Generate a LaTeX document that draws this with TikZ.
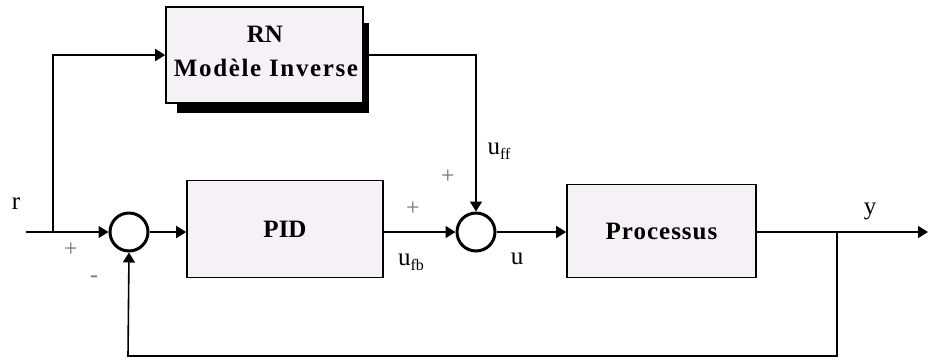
\documentclass[tikz,border=0pt]{standalone}
\usepackage{fontspec}
\setmainfont{Liberation Serif}
\newfontfamily\wideA[LetterSpace=6.5]{Liberation Serif}
\newfontfamily\wideB[LetterSpace=4]{Liberation Serif}
\usetikzlibrary{arrows.meta}
\definecolor{boxfill}{RGB}{246,241,246}
\begin{document}
\begin{tikzpicture}[x=1pt,y=-1pt,
  blockbox/.style={draw, line width=1.6pt, fill=boxfill, inner sep=0pt, align=center,
    font=\fontsize{25}{28}\selectfont\bfseries},
  sumnode/.style={circle, draw, line width=3pt, fill=white, minimum size=38pt, inner sep=0pt},
  wire/.style={line width=1.6pt},
  arr/.style={wire, -{Triangle[length=10pt,width=12pt]}},
  lbl/.style={font=\fontsize{25}{28}\selectfont, inner sep=0pt},
  sgn/.style={font=\fontsize{24}{28}\selectfont, text=black!55, inner sep=0pt}]
\useasboundingbox (0,0) rectangle (928,360);
% shadow of RN box
\fill[black] (177,23) rectangle (369,113);
\node[blockbox, minimum width=197pt, minimum height=96pt] (rn) at (264.5,55) {};
\node[font=\fontsize{25}{28}\selectfont\bfseries, inner sep=0pt] (rnt1) at (265,34) {RN};
\node[font=\wideA\fontsize{25}{28}\selectfont\bfseries, inner sep=0pt] (rnt2) at (266,68) {Modèle Inverse};
\node[blockbox, minimum width=196pt, minimum height=97pt] (pid) at (285,229) {PID};
\node[blockbox, minimum width=189pt, minimum height=93pt, font=\wideB\fontsize{25}{28}\selectfont\bfseries] (proc) at (661.5,231) {Processus};
\node[sumnode] (s1) at (129,232) {};
\node[sumnode] (s2) at (476,232) {};
\coordinate (rin) at (26,232);
\coordinate (split) at (53,232);
\coordinate (ybr) at (837,232);
\coordinate (yout) at (928,232);
\coordinate (fbr) at (837,356);
\coordinate (fbl) at (128,356);
% connectors
\draw[wire] (rin) -- (split);
\draw[arr] (split) -- (s1.west);
\draw[arr] (split) |- (rn.west);
\draw[arr] (s1.east) -- (pid.west |- s1.east);
\draw[arr] (pid.east |- s2.west) -- (s2.west);
\draw[arr] (rn.east) -| (s2.north);
\draw[arr] (s2.east) -- (proc.west |- s2.east);
\draw[wire] (proc.east |- ybr) -- (ybr);
\draw[arr] (ybr) -- (yout);
\draw[arr] (ybr) -- (fbr) -- (fbl) -- (s1.south);
% labels
\node[lbl] (lr) at (16,204) {r};
\node[sgn] (p1) at (71,250) {+};
\node[sgn] (m1) at (94,279) {-};
\node[sgn] (p2) at (413,209) {+};
\node[sgn] (p3) at (448,177) {+};
\node[lbl] (lfb) at (411,262) {u\raisebox{-5pt}{\fontsize{16}{16}\selectfont fb}};
\node[lbl] (lff) at (499,151) {u\raisebox{-5pt}{\fontsize{16}{16}\selectfont ff}};
\node[lbl] (lu) at (517,259) {u};
\node[lbl] (ly) at (870,211) {y};
\end{tikzpicture}
\end{document}
